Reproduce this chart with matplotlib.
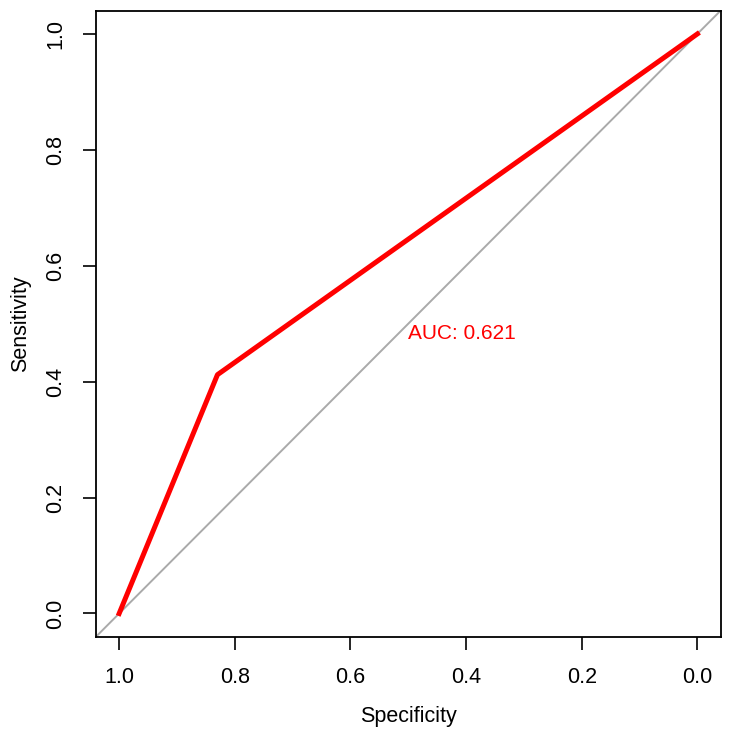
import matplotlib.pyplot as plt
import numpy as np

# ROC curve points (specificity, sensitivity)
specificity = [1.0, 0.830, 0.0]
sensitivity = [0.0, 0.412, 1.0]
auc_label = "AUC: 0.621"
ticks = [0.0, 0.2, 0.4, 0.6, 0.8, 1.0]

plt.rcParams['font.family'] = ['Liberation Sans', 'DejaVu Sans']

fig = plt.figure(figsize=(7.33, 7.33), dpi=100)
ax = fig.add_axes([0.131, 0.1314, 0.852, 0.854])

ax.set_xlim(1.04, -0.04)
ax.set_ylim(-0.04, 1.04)

# diagonal reference line across the whole plot
ax.plot([1.04, -0.04], [-0.04, 1.04], color='#aaaaaa', lw=1.4, zorder=1)
ax.plot(specificity, sensitivity, color='red', lw=3.6, zorder=2)
ax.text(0.5, 0.5, auc_label, color='red', fontsize=15, ha='left', va='top')

ax.set_xticks(ticks)
ax.set_yticks(ticks)
ax.set_xticklabels([f"{t:.1f}" for t in ticks])
ax.set_yticklabels([f"{t:.1f}" for t in ticks], rotation=90, va='center')
ax.tick_params(labelsize=15.5, length=9.5, width=1.2, pad=12)
for s in ax.spines.values():
    s.set_linewidth(1.3)

ax.set_xlabel("Specificity", fontsize=15.5, labelpad=13)
ax.set_ylabel("Sensitivity", fontsize=15.5, labelpad=10)

fig.savefig("out.png", dpi=100)
